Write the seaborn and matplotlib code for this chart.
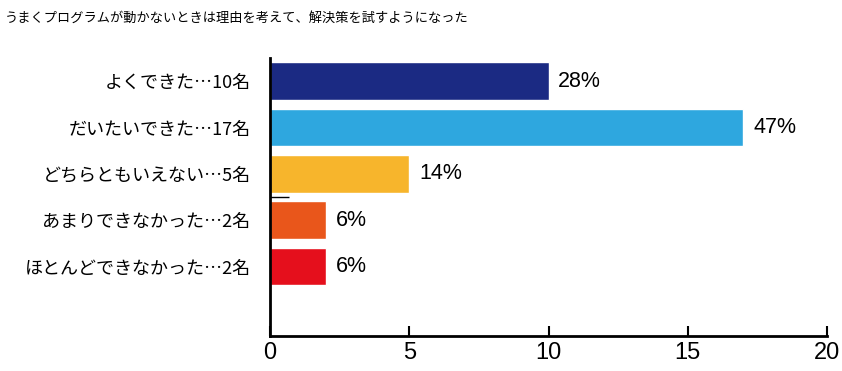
#!/usr/bin/env python3
"""Horizontal bar chart: self-assessment of debugging habit."""

import matplotlib

matplotlib.use("Agg")
import matplotlib.pyplot as plt
import pandas as pd
import seaborn as sns

TITLE = "うまくプログラムが動かないときは理由を考えて、解決策を試すようになった"
categories = [
    "よくできた…10名",
    "だいたいできた…17名",
    "どちらともいえない…5名",
    "あまりできなかった…2名",
    "ほとんどできなかった…2名",
]
counts = [10, 17, 5, 2, 2]
pct_labels = ["28%", "47%", "14%", "6%", "6%"]
colors = ["#1b2a83", "#2ea7df", "#f7b52c", "#e9561b", "#e50f1c"]
x_ticks = [0, 5, 10, 15, 20]

sns.set_theme(style="white")
plt.rcParams["font.family"] = ["Noto Sans CJK JP", "DejaVu Sans"]
plt.rcParams["text.color"] = "black"
plt.rcParams["xtick.labelcolor"] = "black"
plt.rcParams["ytick.labelcolor"] = "black"

df = pd.DataFrame({"category": categories, "count": counts})

fig = plt.figure(figsize=(8.42, 3.71), dpi=100)
ax = fig.add_axes([270 / 842, 35 / 371, 557 / 842, 278 / 371])

sns.barplot(data=df, x="count", y="category", hue="category", palette=colors,
            legend=False, width=0.82, saturation=1, ax=ax)

ax.set_xlim(0, 20)
ax.set_ylim(5.5, -0.5)
ax.set_xticks(x_ticks)
ax.set_xticklabels([str(t) for t in x_ticks], family="Liberation Sans", fontsize=17)
ax.set_xlabel("")
ax.set_ylabel("")
ax.tick_params(axis="x", bottom=True, direction="in", length=7, width=1.5,
               color="black", pad=4)
ax.tick_params(axis="y", which="major", left=True, length=0, pad=14, labelsize=13)
# stray little tick between the 3rd and 4th bar, as in the original
ax.set_yticks([2.5], minor=True)
ax.tick_params(axis="y", which="minor", left=True, direction="in", length=14,
               width=1, color="black")

for side in ["top", "right"]:
    ax.spines[side].set_visible(False)
for side in ["left", "bottom"]:
    ax.spines[side].set_color("black")
    ax.spines[side].set_linewidth(2)

for bar, lab in zip(ax.patches, pct_labels):
    ax.annotate(lab, (bar.get_width(), bar.get_y() + bar.get_height() / 2),
                xytext=(7, 0), textcoords="offset points", va="center", ha="left",
                fontsize=15.5, family="Liberation Sans")

fig.text(5 / 842, 1 - 18 / 371, TITLE, fontsize=9.5, va="center", ha="left")

fig.savefig("out.png", dpi=100)
